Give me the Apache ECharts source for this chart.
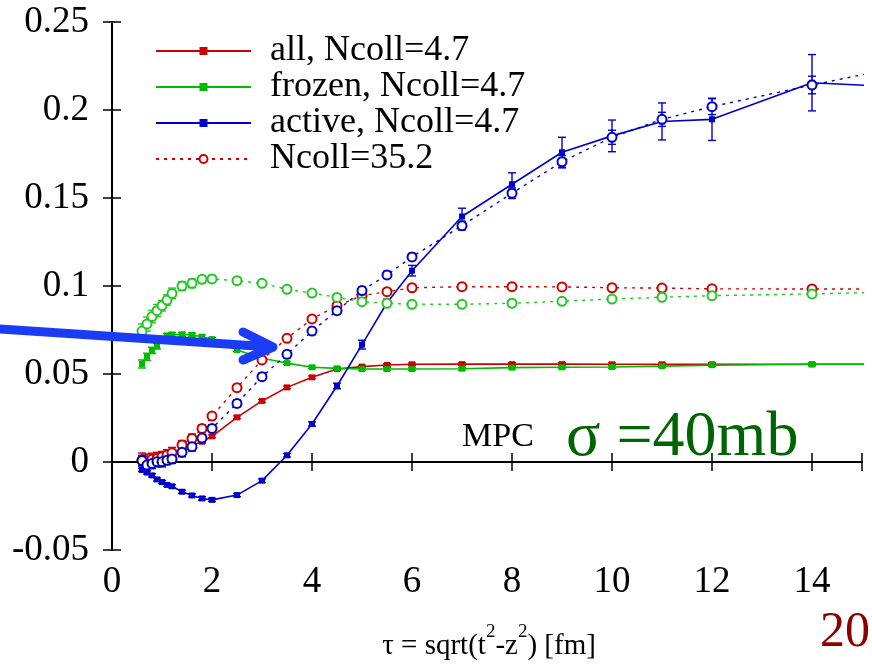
<!DOCTYPE html>
<html><head><meta charset="utf-8">
<script src="https://cdn.jsdelivr.net/npm/echarts@6/dist/echarts.min.js"></script>
<style>html,body{margin:0;padding:0;background:#fff}#c{width:872px;height:664px}</style>
</head><body><div id="c"></div>
<script>
const tau = [0.6,0.7,0.8,0.9,1.0,1.1,1.2,1.4,1.6,1.8,2.0,2.5,3,3.5,4,4.5,5,5.5,6,7,8,9,10,11,12,14,16];
const allN47 = [0.0005,0.0008,0.0012,0.0018,0.0025,0.0035,0.0045,0.0068,0.0095,0.0115,0.0146,0.0254,0.0347,0.0424,0.0481,0.0528,0.0542,0.0551,0.0555,0.0556,0.0556,0.0556,0.0555,0.0555,0.0555,0.0555,0.0555];
const allN47Err = [0.0008,0.0008,0.0008,0.0008,0.0008,0.0008,0.0008,0.0008,0.0008,0.0008,0.0008,0.0008,0.0008,0.0008,0.0008,0.0008,0.0008,0.0008,0.0008,0.0008,0.0008,0.0008,0.0008,0.0008,0.0008,0.0008,0.0008];
const frozenN47 = [0.0557,0.0598,0.0634,0.0658,0.0695,0.0718,0.0724,0.0725,0.0722,0.0712,0.0698,0.0636,0.0589,0.0562,0.0538,0.0532,0.0528,0.0528,0.0528,0.0530,0.0536,0.0538,0.0540,0.0545,0.0550,0.0555,0.0556];
const frozenN47Err = [0.0023,0.002,0.0018,0.0016,0.0014,0.0013,0.0012,0.0012,0.0011,0.001,0.001,0.0009,0.0009,0.0008,0.0008,0.0008,0.0008,0.0008,0.0008,0.0008,0.0008,0.0008,0.0008,0.0008,0.0008,0.0008,0.0008];
const activeN47 = [-0.0045,-0.006,-0.0076,-0.0099,-0.0114,-0.013,-0.0138,-0.0169,-0.019,-0.0207,-0.0215,-0.0188,-0.0106,0.0038,0.0216,0.0432,0.0667,0.0905,0.1087,0.1395,0.1578,0.176,0.1853,0.1935,0.1947,0.2155,0.2128];
const activeN47Err = [0.0009,0.0009,0.0009,0.0009,0.0009,0.0009,0.0009,0.0009,0.0009,0.0009,0.0009,0.0009,0.001,0.001,0.0012,0.0016,0.0025,0.002,0.003,0.0047,0.0065,0.0085,0.009,0.0105,0.012,0.016,0.016];
const allN352 = [0.0011,0.0005,0.0015,0.002,0.003,0.004,0.0053,0.0097,0.0134,0.0191,0.0261,0.0422,0.058,0.0703,0.0813,0.0888,0.0945,0.0968,0.099,0.0996,0.0996,0.0995,0.099,0.0988,0.0984,0.0983,0.0983];
const frozenN352 = [0.0744,0.0784,0.0826,0.086,0.0888,0.092,0.0958,0.1,0.1015,0.1038,0.104,0.103,0.1015,0.0981,0.096,0.0935,0.0911,0.0902,0.0896,0.0896,0.0902,0.0913,0.0926,0.0936,0.0945,0.0955,0.0968];
const activeN352 = [0.0008,-0.0017,-0.0008,0.0002,0.0002,0.001,0.0017,0.0055,0.0087,0.0136,0.0191,0.0333,0.0485,0.0612,0.0744,0.086,0.0974,0.1063,0.1165,0.1343,0.1527,0.1706,0.1845,0.1947,0.2019,0.2142,0.2258];
const flatDotErr = [0.004,0.004,0.0035,0.0035,0.003,0.003,0.003,0.0025,0.0025,0.002,0.002,0.0018,0.0016,0.0015,0.0015,0.0015,0.0015,0.0015,0.0015,0.0015,0.0015,0.0015,0.0015,0.0015,0.0015,0.0015,0.0015];
const activeDotErr = [0.003,0.003,0.003,0.003,0.003,0.0025,0.0025,0.0025,0.0025,0.002,0.002,0.002,0.002,0.002,0.002,0.002,0.002,0.002,0.002,0.0025,0.003,0.0035,0.004,0.004,0.0045,0.005,0.005];
const yTicks = [-0.05,0,0.05,0.1,0.15,0.2,0.25];
const xTicks = [0,2,4,6,8,10,12,14];

const RED='#cc0000', GREEN='#00bb00', GREEN2='#22c822', BLUE='#0000cc';
const FONT="'Liberation Serif','Times New Roman',serif";

function pts(ys){return tau.map((t,i)=>[t,ys[i]]);}
function errData(ys,es){return tau.map((t,i)=>[t,ys[i],es[i]]);}
function errSeries(ys,es,color,dashed){
  return {type:'custom',silent:true,clip:true,z:3,data:errData(ys,es),encode:{x:0,y:1},
    renderItem:function(params,api){
      const x=api.value(0),y=api.value(1),e=api.value(2);
      const t=api.coord([x,y+e]),b=api.coord([x,y-e]);
      const st={stroke:color,lineWidth:1.4,lineDash:dashed?[2,3]:null};
      return {type:'group',children:[
        {type:'line',shape:{x1:t[0],y1:t[1],x2:b[0],y2:b[1]},style:st},
        {type:'line',shape:{x1:t[0]-4,y1:t[1],x2:t[0]+4,y2:t[1]},style:{stroke:color,lineWidth:1.4}},
        {type:'line',shape:{x1:b[0]-4,y1:b[1],x2:b[0]+4,y2:b[1]},style:{stroke:color,lineWidth:1.4}}
      ]};
    }};
}
function solid(name,ys,color){
  return {name:name,type:'line',data:pts(ys),symbol:'rect',symbolSize:6,showSymbol:true,clip:true,z:4,
    lineStyle:{color:color,width:1.6},itemStyle:{color:color}};
}
function dotted(name,ys,color){
  return {name:name,type:'line',data:pts(ys),symbol:'emptyCircle',symbolSize:9,showSymbol:true,clip:true,z:4,
    lineStyle:{color:color,width:1.4,type:[3,5]},itemStyle:{color:color,borderColor:color,borderWidth:1.4}};
}

const chart = echarts.init(document.getElementById('c'),null,{renderer:'canvas'});
const axisCommon = {axisLine:{show:true,lineStyle:{color:'#000',width:2}},axisTick:{show:true,inside:true,length:9,lineStyle:{color:'#000',width:1.5}},splitLine:{show:false}};
const zeroSeries = solid('all, Ncoll=4.7',allN47,RED);
zeroSeries.markLine = {silent:true,symbol:'none',label:{show:false},lineStyle:{type:[2,3],color:'#000',width:1},data:[{yAxis:0}]};

chart.setOption({
  animation:false,
  backgroundColor:'#fff',
  grid:{left:112,right:10,top:22,bottom:114,containLabel:false},
  legend:{orient:'vertical',left:155,top:33,padding:0,itemWidth:95,itemHeight:10,itemGap:0,
    data:['all, Ncoll=4.7','frozen, Ncoll=4.7','active, Ncoll=4.7','Ncoll=35.2'],
    textStyle:{fontFamily:FONT,fontSize:36,lineHeight:34,color:'#000',padding:[0,0,0,14]}},
  xAxis:[
    Object.assign({type:'value',min:0,max:15,interval:2,position:'bottom',
      axisLabel:{fontFamily:FONT,fontSize:37,color:'#000',margin:14,
        formatter:v=>xTicks.includes(v)?String(v):''}},axisCommon),
    Object.assign({type:'value',min:0,max:15,interval:2,position:'top',axisLabel:{show:false}},axisCommon)
  ],
  yAxis:[
    Object.assign({type:'value',min:-0.05,max:0.25,interval:0.05,position:'left',
      axisLabel:{fontFamily:FONT,fontSize:37,color:'#000',margin:23,
        formatter:v=>{const r=+v.toFixed(2);return yTicks.includes(r)?String(r):'';}}},axisCommon),
    Object.assign({type:'value',min:-0.05,max:0.25,interval:0.05,position:'right',axisLabel:{show:false}},axisCommon)
  ],
  series:[
    errSeries(allN47,allN47Err,RED,false),
    errSeries(frozenN47,frozenN47Err,GREEN,false),
    errSeries(activeN47,activeN47Err,BLUE,false),
    errSeries(allN352,flatDotErr,RED,true),
    errSeries(frozenN352,flatDotErr,GREEN2,true),
    errSeries(activeN352,activeDotErr,BLUE,true),
    zeroSeries,
    solid('frozen, Ncoll=4.7',frozenN47,GREEN),
    solid('active, Ncoll=4.7',activeN47,BLUE),
    dotted('Ncoll=35.2',allN352,RED),
    dotted('frozen, Ncoll=35.2',frozenN352,GREEN2),
    dotted('active, Ncoll=35.2',activeN352,BLUE)
  ],
  graphic:[
    {type:'polyline',z:100,shape:{points:[[0,329],[272,347]]},style:{stroke:'#1a3cf5',lineWidth:9,lineCap:'round',fill:null}},
    {type:'polyline',z:100,shape:{points:[[243,332],[273,347],[243,360]]},style:{stroke:'#1a3cf5',lineWidth:9,lineCap:'round',lineJoin:'round',fill:null}},
    {type:'text',z:100,left:462,top:420,style:{text:'MPC',font:"34px 'Liberation Serif', serif",fill:'#000'}},
    {type:'text',z:100,left:566,top:406,style:{text:'σ =40mb',font:"64px 'Liberation Serif', serif",fill:'#006400'}},
    {type:'text',z:100,left:820,top:608,style:{text:'20',font:"50px 'Liberation Serif', serif",fill:'#8b0000'}},
    {type:'text',z:100,x:489,y:642,style:{
      text:'{n|τ = sqrt(t}{s|2}{n|-z}{s|2}{n|) [fm]}',align:'center',verticalAlign:'middle',
      rich:{n:{fontFamily:FONT,fontSize:29,fill:'#000',lineHeight:38,verticalAlign:'bottom'},
            s:{fontFamily:FONT,fontSize:19,fill:'#000',lineHeight:38,verticalAlign:'top'}}}}
  ]
});
</script></body></html>
